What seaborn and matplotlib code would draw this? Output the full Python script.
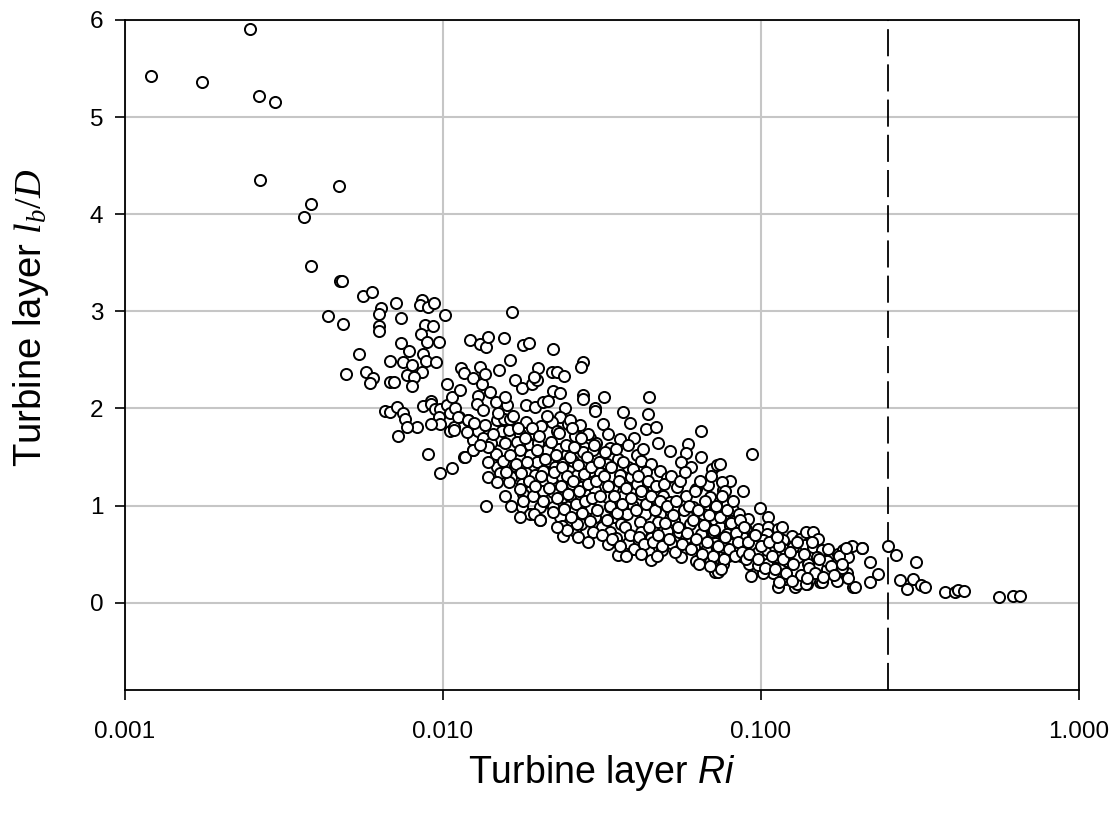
import numpy as np
import pandas as pd
import matplotlib
matplotlib.use("Agg")
import matplotlib.pyplot as plt
from matplotlib.ticker import FixedLocator, FuncFormatter, NullLocator
import seaborn as sns

# ---------------- data ----------------
# sparse upper-left points
ri_sparse = [0.00121, 0.00175, 0.00247, 0.00263, 0.00296, 0.00266, 0.00471, 0.00385,
             0.00366, 0.00385, 0.00474, 0.00482, 0.00561, 0.00598, 0.00436, 0.00484,
             0.0064, 0.00629, 0.00629, 0.00629, 0.00545, 0.00494, 0.00571, 0.00602,
             0.00588, 0.00657, 0.0068]
lb_sparse = [5.42, 5.36, 5.91, 5.22, 5.16, 4.35, 4.29, 4.11,
             3.97, 3.47, 3.31, 3.31, 3.16, 3.20, 2.95, 2.87,
             3.03, 2.97, 2.85, 2.80, 2.56, 2.35, 2.37, 2.31,
             2.26, 1.97, 1.96]

# points between Ri = 0.0065 and 0.012
ri_low = [0.0071, 0.00738, 0.00857, 0.00847, 0.00899, 0.00937, 0.00876, 0.0093,
          0.00853, 0.00888, 0.0097, 0.00738, 0.0078, 0.00683, 0.00748, 0.0080,
          0.00866, 0.00885, 0.0095, 0.00862, 0.0068, 0.00703, 0.0077, 0.0081,
          0.0080, 0.0092, 0.00715, 0.0075, 0.0076, 0.00826, 0.0077, 0.00724,
          0.00867, 0.0092, 0.00944, 0.0098, 0.01028, 0.01065, 0.0105, 0.0097,
          0.0098, 0.0092, 0.0105, 0.0108, 0.0109, 0.0090, 0.0103, 0.01014,
          0.0112, 0.0120, 0.01132, 0.0098, 0.0107]
lb_low = [3.09, 2.93, 3.12, 3.07, 3.04, 3.09, 2.86, 2.85,
          2.77, 2.68, 2.68, 2.67, 2.59, 2.49, 2.48, 2.45,
          2.56, 2.49, 2.48, 2.38, 2.27, 2.27, 2.34, 2.32,
          2.23, 2.08, 2.01, 1.95, 1.89, 1.81, 1.81, 1.72,
          2.02, 2.05, 1.99, 1.99, 2.03, 2.12, 1.95, 1.91,
          1.84, 1.84, 1.77, 1.81, 2.00, 1.53, 2.25, 2.96,
          1.91, 1.88, 2.19, 1.33, 1.39]

# upper edge of the cloud, Ri = 0.011 - 0.03
ri_upper = [0.0114, 0.0116, 0.0124, 0.0131, 0.0133, 0.0136, 0.0150, 0.01216,
            0.0131, 0.0137, 0.0139, 0.0155, 0.0162, 0.0178, 0.0187, 0.0222,
            0.0199, 0.0165, 0.0168, 0.0177, 0.0190, 0.0197, 0.0193, 0.0220,
            0.0228, 0.0241, 0.0275, 0.0272, 0.0276, 0.0300, 0.0290, 0.0299,
            0.0222]
lb_upper = [2.42, 2.36, 2.31, 2.43, 2.25, 2.35, 2.40, 2.70,
            2.66, 2.63, 2.74, 2.72, 2.50, 2.65, 2.67, 2.61,
            2.42, 2.99, 2.29, 2.21, 2.25, 2.29, 2.32, 2.38,
            2.38, 2.33, 2.48, 2.43, 2.14, 2.00, 1.70, 1.60,
            2.18]

# cloud, Ri = 0.011 - 0.027
ri_mid = [0.01117, 0.0120, 0.01245, 0.0129, 0.0134, 0.01245, 0.0116, 0.01475,
          0.0151, 0.0142, 0.0147, 0.01567, 0.0153, 0.0161, 0.01475, 0.0155,
          0.0163, 0.0147, 0.0159, 0.0157, 0.0129, 0.0128, 0.0134, 0.0141,
          0.0183, 0.01946, 0.0207, 0.0214, 0.0233, 0.0242, 0.0233, 0.0248,
          0.0260, 0.0183, 0.0175, 0.0171, 0.0175, 0.0188, 0.0195, 0.0204,
          0.0220, 0.0228, 0.0199, 0.0212, 0.0231, 0.0245, 0.0260, 0.0188,
          0.0197, 0.0214, 0.0225, 0.0239, 0.0168, 0.0164, 0.0177, 0.0183,
          0.0195, 0.0207, 0.0220, 0.0236, 0.0254, 0.0179, 0.0192, 0.0207,
          0.0222, 0.0239, 0.0164, 0.0177, 0.0188, 0.0202, 0.0222, 0.0175,
          0.0202, 0.0233, 0.0236, 0.0239, 0.0151, 0.0161, 0.0139, 0.0139,
          0.0137, 0.0108, 0.01186, 0.0117, 0.0124, 0.0175, 0.0193, 0.0202,
          0.0139, 0.0178]
lb_mid = [1.91, 1.88, 1.67, 1.77, 1.70, 1.57, 1.50, 1.40,
          1.67, 1.64, 1.53, 1.64, 1.77, 1.78, 1.88, 1.89,
          1.89, 2.07, 2.04, 2.12, 2.13, 2.05, 1.98, 2.17,
          2.03, 2.01, 2.07, 2.08, 2.16, 2.00, 1.91, 1.84,
          1.72, 1.86, 1.74, 1.65, 1.57, 1.62, 1.74, 1.82,
          1.86, 1.77, 1.64, 1.57, 1.58, 1.53, 1.60, 1.52,
          1.45, 1.46, 1.40, 1.43, 1.41, 1.29, 1.22, 1.33,
          1.31, 1.36, 1.28, 1.29, 1.22, 1.12, 1.10, 1.15,
          1.14, 1.09, 1.00, 0.98, 0.91, 0.98, 0.98, 0.88,
          0.85, 0.88, 0.79, 0.69, 1.33, 1.24, 1.45, 1.29,
          1.00, 1.78, 1.76, 1.50, 1.57, 1.17, 0.91, 0.85,
          1.60, 1.05]

# cloud, Ri = 0.025 - 0.078
ri_core = [0.0276, 0.0321, 0.0443, 0.0300, 0.0368, 0.0387, 0.0441, 0.0436,
           0.0467, 0.0400, 0.0475, 0.0517, 0.0646, 0.0588, 0.0579, 0.0561,
           0.0602, 0.0646, 0.0700, 0.0726, 0.0251, 0.0269, 0.0286, 0.0319,
           0.0331, 0.0359, 0.0303, 0.0276, 0.0257, 0.0296, 0.0335, 0.0355,
           0.0406, 0.0420, 0.0451, 0.0383, 0.0327, 0.0289, 0.0263, 0.0311,
           0.0359, 0.0391, 0.0436, 0.0481, 0.0505, 0.0545, 0.0457, 0.0406,
           0.0342, 0.0300, 0.0272, 0.0251, 0.0279, 0.0327, 0.0368, 0.0420,
           0.0492, 0.0581, 0.0624, 0.0679, 0.0758, 0.0690, 0.0758, 0.0517,
           0.0446, 0.0395, 0.0335, 0.0293, 0.0260, 0.0272, 0.0260, 0.0300,
           0.0316, 0.0346, 0.0378, 0.0431, 0.0481, 0.0545, 0.0610, 0.0659,
           0.0717, 0.0769, 0.0717, 0.0666, 0.0597, 0.0532, 0.0475, 0.0415,
           0.0363, 0.0335, 0.0296, 0.0263, 0.0350, 0.0383, 0.0331, 0.0355,
           0.0420, 0.0451, 0.0505, 0.0553, 0.0581, 0.0646, 0.0708, 0.0767,
           0.0446, 0.0451, 0.0487, 0.0523, 0.0567, 0.0617, 0.0672, 0.0717,
           0.0767, 0.0561, 0.0624, 0.0690, 0.0758, 0.0717]
lb_core = [2.10, 2.12, 2.12, 1.97, 1.96, 1.85, 1.94, 1.79,
           1.81, 1.70, 1.64, 1.56, 1.77, 1.63, 1.54, 1.45,
           1.40, 1.50, 1.38, 1.42, 1.88, 1.83, 1.74, 1.84,
           1.74, 1.69, 1.64, 1.55, 1.46, 1.57, 1.59, 1.48,
           1.52, 1.46, 1.43, 1.40, 1.43, 1.36, 1.31, 1.33,
           1.31, 1.29, 1.34, 1.36, 1.28, 1.19, 1.19, 1.22,
           1.19, 1.16, 1.19, 1.10, 1.05, 1.09, 1.10, 1.12,
           1.10, 1.10, 1.17, 1.21, 1.16, 1.09, 1.04, 1.04,
           0.98, 1.00, 0.98, 0.97, 0.95, 0.81, 0.74, 0.88,
           0.78, 0.88, 0.91, 0.91, 0.91, 0.95, 0.98, 0.91,
           0.97, 0.91, 0.85, 0.79, 0.81, 0.85, 0.83, 0.83,
           0.81, 0.73, 0.73, 0.81, 0.67, 0.61, 0.60, 0.49,
           0.73, 0.67, 0.74, 0.73, 0.67, 0.71, 0.73, 0.69,
           0.52, 0.44, 0.54, 0.61, 0.55, 0.57, 0.54, 0.61,
           0.50, 0.47, 0.43, 0.42, 0.40, 0.32]

# tail of the cloud, Ri = 0.073 - 0.24
ri_tail = [0.0935, 0.0743, 0.0797, 0.0752, 0.077, 0.0876, 0.0993, 0.105,
           0.0743, 0.0779, 0.0816, 0.0854, 0.0913, 0.0761, 0.0743, 0.0797,
           0.0845, 0.0895, 0.0981, 0.1054, 0.1133, 0.1161, 0.1249, 0.1327,
           0.1386, 0.1461, 0.1515, 0.0779, 0.0825, 0.0885, 0.0946, 0.1041,
           0.1106, 0.1175, 0.0946, 0.1017, 0.0854, 0.0806, 0.0761, 0.0788,
           0.0864, 0.0917, 0.0981, 0.1041, 0.1106, 0.1175, 0.1264, 0.1376,
           0.1461, 0.1552, 0.1648, 0.1750, 0.1815, 0.1928, 0.2072, 0.2200,
           0.2336, 0.2200, 0.1951, 0.1859, 0.1729, 0.1609, 0.1533, 0.1393,
           0.1280, 0.1190, 0.1133, 0.1093, 0.1017, 0.0928, 0.0981, 0.1041,
           0.1119, 0.1204, 0.1311, 0.1410, 0.1497, 0.1609, 0.1750, 0.1882,
           0.1793, 0.2073, 0.128, 0.1295, 0.1385, 0.1552, 0.173, 0.1975,
           0.0734, 0.1141]
lb_tail = [1.53, 1.43, 1.25, 1.24, 1.15, 1.15, 0.975, 0.886,
           1.05, 1.02, 0.95, 0.91, 0.86, 0.90, 0.78, 0.79,
           0.78, 0.76, 0.76, 0.78, 0.76, 0.78, 0.69, 0.65,
           0.73, 0.73, 0.65, 0.71, 0.67, 0.67, 0.69, 0.71,
           0.66, 0.64, 0.60, 0.64, 0.57, 0.60, 0.57, 0.48,
           0.48, 0.40, 0.52, 0.54, 0.57, 0.55, 0.57, 0.59,
           0.57, 0.54, 0.49, 0.50, 0.54, 0.58, 0.56, 0.42,
           0.29, 0.21, 0.16, 0.30, 0.23, 0.35, 0.21, 0.19,
           0.17, 0.24, 0.16, 0.30, 0.30, 0.27, 0.39, 0.40,
           0.47, 0.43, 0.47, 0.40, 0.47, 0.43, 0.43, 0.47,
           0.36, 0.564, 0.165, 0.193, 0.193, 0.21, 0.22, 0.165,
           0.32, 0.21]

# far-right points
ri_right = [0.2514, 0.2658, 0.2736, 0.2871, 0.3014, 0.3074, 0.3186, 0.3279,
            0.379, 0.4074, 0.4174, 0.4349, 0.5617, 0.6185, 0.6523]
lb_right = [0.578, 0.492, 0.234, 0.141, 0.244, 0.423, 0.186, 0.159,
            0.107, 0.107, 0.131, 0.117, 0.062, 0.066, 0.066]

# further points estimated inside the dense part of the cloud
ri_fill = [0.0125, 0.0131, 0.0136, 0.0144, 0.0149, 0.0154, 0.0158, 0.0163,
           0.0166, 0.0170, 0.0172, 0.0176, 0.0181, 0.0184, 0.0186, 0.0190,
           0.0195, 0.0198, 0.0148, 0.0157,
           0.0201, 0.0204, 0.0206, 0.0209, 0.0212, 0.0215, 0.0218, 0.0221,
           0.0224, 0.0227, 0.0229, 0.0232, 0.0235, 0.0237, 0.0240, 0.0243,
           0.0246, 0.0248, 0.0251, 0.0253, 0.0256, 0.0259, 0.0262, 0.0265,
           0.0268, 0.0271, 0.0274, 0.0277, 0.0280, 0.0283, 0.0286, 0.0289,
           0.0292, 0.0295, 0.0298, 0.0245, 0.0266, 0.0285, 0.0228, 0.0255,
           0.0302, 0.0306, 0.0309, 0.0312, 0.0316, 0.0320, 0.0323, 0.0327,
           0.0330, 0.0334, 0.0338, 0.0341, 0.0345, 0.0349, 0.0353, 0.0357,
           0.0361, 0.0365, 0.0369, 0.0373, 0.0377, 0.0381, 0.0386, 0.0390,
           0.0395, 0.0399, 0.0404, 0.0409, 0.0414, 0.0419, 0.0424, 0.0429,
           0.0434, 0.0440, 0.0445, 0.0451, 0.0457, 0.0463, 0.0469, 0.0475,
           0.0481, 0.0488, 0.0494, 0.0500, 0.0507, 0.0514, 0.0521, 0.0528,
           0.0535, 0.0542, 0.0549, 0.0556, 0.0564, 0.0571, 0.0578, 0.0586,
           0.0594, 0.0375, 0.0420, 0.0470,
           0.0602, 0.0610, 0.0618, 0.0626, 0.0634, 0.0643, 0.0651, 0.0660,
           0.0669, 0.0678, 0.0687, 0.0696, 0.0705, 0.0714, 0.0724, 0.0733,
           0.0743, 0.0753, 0.0763, 0.0773, 0.0783, 0.0794, 0.0804, 0.0815,
           0.0826, 0.0837, 0.0848, 0.0860, 0.0871, 0.0883, 0.0895, 0.0640,
           0.0690, 0.0750,
           0.0907, 0.0920, 0.0960, 0.0975, 0.1000, 0.1030, 0.1060, 0.1080,
           0.1110, 0.1140, 0.1170, 0.1200, 0.1230, 0.1260, 0.1300, 0.1340,
           0.1370, 0.1420, 0.1450, 0.1480, 0.1520, 0.1570, 0.1620, 0.1660,
           0.1700, 0.1760, 0.1800, 0.1850, 0.1880, 0.1120, 0.1250, 0.1400]
lb_fill = [1.85, 1.62, 1.83, 1.74, 1.95, 1.46, 1.35, 1.52,
           1.92, 1.43, 1.80, 1.33, 1.70, 1.45, 1.25, 1.80,
           1.20, 1.57, 1.24, 1.10,
           1.72, 1.30, 1.05, 1.48, 1.92, 1.18, 1.65, 0.93,
           1.35, 1.52, 1.08, 1.75, 1.20, 1.40, 0.96, 1.62,
           1.30, 1.12, 1.50, 0.88, 1.25, 1.60, 1.02, 1.42,
           1.15, 1.70, 0.92, 1.32, 1.05, 1.50, 1.22, 0.84,
           1.40, 1.08, 1.62, 0.75, 0.68, 0.62, 0.78, 1.80,
           1.25, 0.95, 1.45, 1.10, 0.70, 1.30, 1.55, 0.85,
           1.20, 1.00, 1.40, 0.65, 1.10, 1.58, 0.92, 1.25,
           0.58, 1.02, 1.45, 0.78, 1.18, 1.62, 0.70, 1.08,
           1.38, 0.55, 0.95, 1.30, 0.68, 1.15, 1.58, 0.60,
           1.02, 1.25, 0.78, 1.10, 0.62, 0.95, 1.20, 0.70,
           1.05, 0.58, 1.22, 0.82, 1.00, 0.66, 1.30, 0.90,
           0.52, 1.05, 0.78, 1.25, 0.60, 0.95, 1.35, 0.72,
           1.00, 0.48, 0.50, 0.48,
           0.55, 0.85, 1.15, 0.65, 0.95, 1.25, 0.50, 0.80,
           1.05, 0.62, 0.90, 1.30, 0.48, 0.75, 1.00, 0.58,
           0.88, 1.10, 0.45, 0.68, 0.95, 0.55, 0.82, 1.05,
           0.48, 0.72, 0.62, 0.85, 0.52, 0.78, 0.45, 0.40,
           0.38, 0.35,
           0.62, 0.50, 0.70, 0.45, 0.58, 0.36, 0.62, 0.48,
           0.35, 0.58, 0.45, 0.30, 0.52, 0.40, 0.62, 0.28,
           0.50, 0.36, 0.62, 0.30, 0.45, 0.26, 0.55, 0.38,
           0.28, 0.48, 0.40, 0.56, 0.25, 0.68, 0.22, 0.25]

ri_critical = 0.25
x_ticks = [0.001, 0.01, 0.1, 1.0]
y_ticks = [0, 1, 2, 3, 4, 5, 6]

ri = ri_sparse + ri_low + ri_upper + ri_mid + ri_core + ri_tail + ri_right + ri_fill
lb = lb_sparse + lb_low + lb_upper + lb_mid + lb_core + lb_tail + lb_right + lb_fill
df = pd.DataFrame({"Ri": ri, "lb": lb})

# ---------------- style ----------------
sns.set_style("white")
plt.rcParams["font.family"] = ["Liberation Sans", "DejaVu Sans"]
plt.rcParams["mathtext.fontset"] = "custom"
plt.rcParams["mathtext.rm"] = "Liberation Serif"
plt.rcParams["mathtext.it"] = "Liberation Serif:italic"
plt.rcParams["mathtext.sf"] = "Liberation Sans:italic"

fig = plt.figure(figsize=(11.17, 8.16), dpi=100)
ax = fig.add_axes([0.1119, 0.1544, 0.8541, 0.8211])

sns.scatterplot(data=df, x="Ri", y="lb", ax=ax, s=64, color="white",
                edgecolor="black", linewidth=1.4, zorder=4, legend=False)

ax.axvline(ri_critical, color="black", linewidth=1.3,
           linestyle=(0, (15, 4.5)), zorder=3)

ax.set_xscale("log")
ax.set_xlim(0.001, 1.0)
ax.set_ylim(-0.9, 6)
ax.xaxis.set_major_locator(FixedLocator(x_ticks))
ax.xaxis.set_minor_locator(NullLocator())
ax.xaxis.set_major_formatter(FuncFormatter(lambda v, p: f"{v:.3f}"))
ax.yaxis.set_major_locator(FixedLocator(y_ticks))

ax.grid(True, color="#c6c6c6", linewidth=1.5, zorder=0)
ax.set_axisbelow(True)

for sp in ax.spines.values():
    sp.set_visible(True)
    sp.set_color("black")
    sp.set_linewidth(1.3)

ax.tick_params(axis="both", which="major", direction="out", length=7.5,
               width=1.2, color="black", labelsize=17.5, labelcolor="black",
               bottom=True, left=True, top=False, right=False)
ax.tick_params(axis="x", pad=15)
ax.tick_params(axis="y", pad=8)

ax.set_xlabel(r"Turbine layer $\mathsf{Ri}$", fontsize=27, labelpad=7, color="black")
ax.set_ylabel(r"Turbine layer $l_b/D$", fontsize=27.5, color="black")
ax.yaxis.set_label_coords(-0.078, 0.555)

fig.savefig("out.png", dpi=100, facecolor="white")
